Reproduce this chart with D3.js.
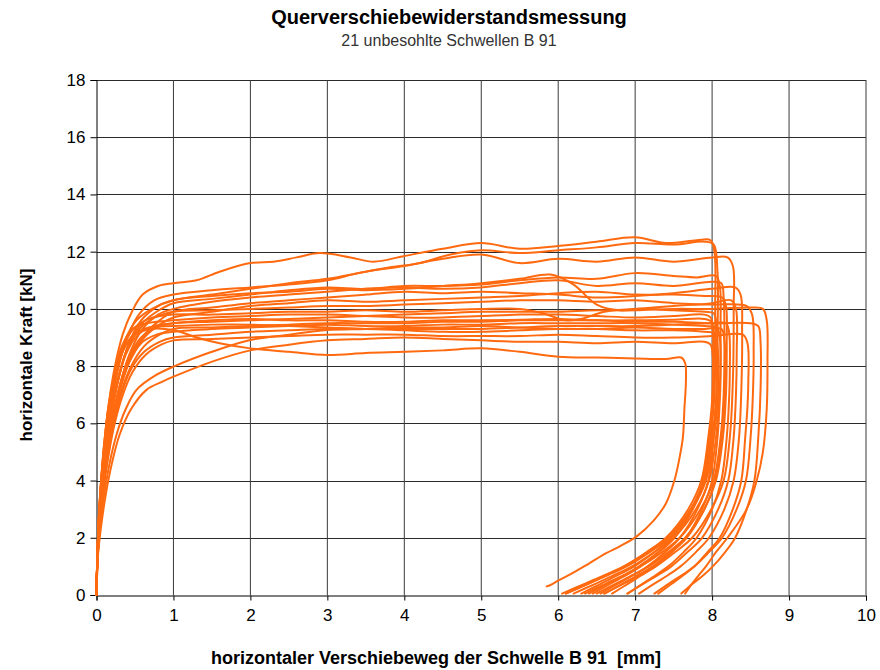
<!DOCTYPE html>
<html>
<head>
<meta charset="utf-8">
<script src="https://cdn.jsdelivr.net/npm/d3@7"></script>
<style>
  html, body { margin: 0; padding: 0; background: #fff; }
  svg { display: block; font-family: "Liberation Sans", Arial, sans-serif; }
</style>
</head>
<body>
<svg id="chart" width="880" height="670"></svg>
<script>
// ---- Data ----
const titleText = "Querverschiebewiderstandsmessung";
const subtitleText = "21 unbesohlte Schwellen B 91";
const xAxisTitle = "horizontaler Verschiebeweg der Schwelle B 91  [mm]";
const yAxisTitle = "horizontale Kraft [kN]";
const xTicks = [0, 1, 2, 3, 4, 5, 6, 7, 8, 9, 10];
const yTicks = [0, 2, 4, 6, 8, 10, 12, 14, 16, 18];

const s01 = [[0,0],[0.01,1.3],[0.03,2.7],[0.06,4],[0.1,5.3],[0.16,6.7],[0.24,8],[0.34,9.1],[0.46,9.9],[0.6,10.5],[0.8,10.8],[1.0,10.9],[1.3,11.0],[1.6,11.3],[2.0,11.6],[2.3,11.65],[2.6,11.8],[2.9,11.95],[3.3,11.8],[3.6,11.65],[4.0,11.85],[4.5,12.1],[5.0,12.3],[5.5,12.1],[6.0,12.2],[6.5,12.35],[7.0,12.5],[7.4,12.3],[7.8,12.4],[7.98,12.4],[8.03,12.0],[8.04,10],[8.03,7],[7.98,5.5],[7.90,4],[7.75,3],[7.51,2],[7.30,1.5],[7.05,1],[6.86,0.7],[6.64,0.4],[6.4,0.05]];
const s02 = [[0,0],[0.01,1.2],[0.03,2.5],[0.07,3.9],[0.12,5.2],[0.19,6.6],[0.28,7.9],[0.4,9],[0.55,9.8],[0.75,10.3],[1.0,10.5],[1.5,10.65],[2.0,10.75],[2.5,10.85],[3.0,11.0],[3.4,11.25],[3.8,11.45],[4.2,11.6],[4.6,11.9],[5.0,12.05],[5.5,11.95],[6.0,12.05],[6.5,12.15],[7.0,12.3],[7.5,12.25],[7.9,12.35],[8.02,12.25],[8.07,11.3],[8.07,9],[8.06,7],[8.02,5.5],[7.95,4],[7.81,3],[7.58,2],[7.39,1.5],[7.16,1],[6.98,0.7],[6.78,0.4],[6.55,0.05]];
const s03 = [[0,0],[0.01,1.2],[0.04,2.6],[0.08,3.9],[0.13,5.1],[0.2,6.4],[0.3,7.7],[0.42,8.8],[0.58,9.6],[0.8,10.1],[1.0,10.3],[1.5,10.5],[2.0,10.7],[2.5,10.9],[3.0,11.05],[3.5,11.3],[4.0,11.5],[4.5,11.75],[5.0,11.9],[5.5,11.6],[6.0,11.75],[6.5,11.65],[7.0,11.8],[7.5,11.65],[8.0,11.8],[8.2,11.8],[8.27,11.5],[8.28,10],[8.27,7.5],[8.23,5.5],[8.15,4],[7.99,3],[7.74,2],[7.52,1.5],[7.27,1],[7.07,0.7],[6.85,0.4],[6.6,0.05]];
const s04 = [[0,0],[0.01,1.2],[0.03,2.5],[0.07,3.8],[0.12,5],[0.19,6.3],[0.28,7.5],[0.4,8.6],[0.56,9.4],[0.78,9.9],[1.0,10.2],[1.5,10.35],[2.0,10.5],[2.5,10.65],[3.0,10.75],[3.5,10.7],[4.0,10.8],[4.5,10.8],[5.0,10.85],[5.5,11.0],[6.0,11.1],[6.5,11.05],[7.0,11.25],[7.5,11.15],[7.8,11.1],[8.05,11.15],[8.1,10.8],[8.11,9.5],[8.1,7.2],[8.05,5.5],[7.96,4],[7.79,3],[7.5,2],[7.25,1.5],[6.96,1],[6.73,0.7],[6.49,0.4],[6.2,0.05]];
const s05 = [[0,0],[0.01,1.1],[0.04,2.4],[0.08,3.7],[0.13,4.9],[0.21,6.2],[0.31,7.4],[0.44,8.5],[0.6,9.3],[0.8,9.8],[1.0,10.0],[1.5,10.25],[2.0,10.4],[2.5,10.5],[3.0,10.6],[3.5,10.7],[4.0,10.75],[4.5,10.7],[5.0,10.75],[5.5,10.9],[6.0,11.0],[6.5,10.8],[7.0,10.9],[7.5,10.8],[8.0,10.95],[8.12,10.9],[8.15,10.4],[8.16,9],[8.15,7],[8.11,5.5],[8.02,4],[7.85,3],[7.58,2],[7.35,1.5],[7.07,1],[6.86,0.7],[6.62,0.4],[6.35,0.05]];
const s06 = [[0,0],[0.01,1.2],[0.03,2.6],[0.06,3.9],[0.11,5.2],[0.17,6.5],[0.26,7.8],[0.37,8.9],[0.52,9.6],[0.72,10.0],[1.0,10.3],[1.5,10.45],[2.0,10.55],[2.5,10.6],[3.0,10.7],[3.5,10.65],[4.0,10.7],[4.5,10.8],[5.0,10.9],[5.5,11.05],[5.9,11.2],[6.2,10.85],[6.5,10.15],[6.8,9.95],[7.0,10.0],[7.5,10.1],[8.0,10.2],[8.25,10.3],[8.31,10.0],[8.32,8.5],[8.31,7],[8.28,5.5],[8.21,4],[8.08,3],[7.87,2],[7.68,1.5],[7.47,1],[7.30,0.7],[7.11,0.4],[6.9,0.05]];
const s07 = [[0,0],[0.01,1.1],[0.04,2.5],[0.08,3.8],[0.14,5],[0.22,6.3],[0.32,7.4],[0.45,8.4],[0.62,9.1],[0.82,9.6],[1.0,9.9],[1.5,10.05],[2.0,10.2],[2.5,10.3],[3.0,10.4],[3.5,10.5],[4.0,10.6],[4.5,10.55],[5.0,10.6],[5.5,10.55],[6.0,10.5],[6.5,10.4],[7.0,10.45],[7.5,10.55],[8.0,10.7],[8.3,10.75],[8.37,10.5],[8.39,9.2],[8.38,7.2],[8.35,5.5],[8.28,4],[8.16,3],[7.96,2],[7.79,1.5],[7.59,1],[7.43,0.7],[7.25,0.4],[7.05,0.05]];
const s08 = [[0,0],[0.01,1.1],[0.04,2.4],[0.08,3.7],[0.14,5],[0.22,6.2],[0.32,7.3],[0.45,8.3],[0.62,9.0],[0.82,9.45],[1.0,9.7],[1.5,9.9],[2.0,10.1],[2.5,10.2],[3.0,10.3],[3.5,10.25],[4.0,10.3],[4.5,10.35],[5.0,10.4],[5.5,10.45],[6.0,10.55],[6.5,10.6],[7.0,10.5],[7.5,10.5],[7.9,10.45],[8.13,10.4],[8.18,10.1],[8.19,8.8],[8.18,7],[8.14,5.5],[8.05,4],[7.90,3],[7.65,2],[7.43,1.5],[7.18,1],[6.97,0.7],[6.75,0.4],[6.5,0.05]];
const s09 = [[0,0],[0.01,1.2],[0.03,2.5],[0.07,3.8],[0.12,5.1],[0.19,6.4],[0.28,7.6],[0.4,8.6],[0.56,9.3],[0.76,9.7],[1.0,9.9],[1.5,9.95],[2.0,10.0],[2.5,10.05],[3.0,10.1],[3.5,10.1],[4.0,10.15],[4.5,10.2],[5.0,10.25],[5.5,10.3],[6.0,10.3],[6.5,10.25],[7.0,10.3],[7.5,10.2],[8.0,10.15],[8.45,10.1],[8.52,9.8],[8.54,8.5],[8.53,7],[8.50,5.5],[8.44,4],[8.32,3],[8.13,2],[7.96,1.5],[7.77,1],[7.61,0.7],[7.44,0.4],[7.25,0.05]];
const s10 = [[0,0],[0.01,1.1],[0.04,2.4],[0.08,3.7],[0.13,4.9],[0.2,6.1],[0.3,7.3],[0.42,8.3],[0.58,9.0],[0.78,9.35],[1.0,9.5],[1.5,9.55],[2.0,9.6],[2.5,9.65],[3.0,9.7],[3.5,9.75],[4.0,9.8],[4.5,9.85],[5.0,9.9],[5.5,9.9],[6.0,9.9],[6.5,9.95],[7.0,9.95],[7.5,10.0],[8.0,10.0],[8.5,10.05],[8.66,10.0],[8.71,9.6],[8.72,8.2],[8.71,6.5],[8.66,5],[8.58,4],[8.45,3],[8.2,2],[8.05,1.5],[7.92,1],[7.83,0.7],[7.74,0.4],[7.65,0.05]];
const s11 = [[0,0],[0.01,1.2],[0.03,2.6],[0.06,3.9],[0.1,5.1],[0.16,6.4],[0.24,7.6],[0.34,8.6],[0.48,9.3],[0.68,9.65],[1.0,9.8],[1.5,9.8],[2.0,9.85],[2.5,9.9],[3.0,9.9],[3.5,9.95],[4.0,9.9],[4.5,9.95],[5.0,10.0],[5.5,10.0],[5.8,9.85],[6.1,9.6],[6.3,9.65],[6.6,9.9],[7.0,10.0],[7.5,9.95],[7.9,9.9],[8.02,9.85],[8.06,9.4],[8.06,8],[8.05,6.8],[8.0,5.5],[7.9,4],[7.72,3],[7.42,2],[7.16,1.5],[6.85,1],[6.61,0.7],[6.35,0.4],[6.05,0.05]];
const s12 = [[0,0],[0.01,1.3],[0.03,2.7],[0.06,4],[0.1,5.2],[0.15,6.5],[0.23,7.7],[0.33,8.7],[0.47,9.3],[0.66,9.5],[1.0,9.6],[1.5,9.7],[2.0,9.75],[2.5,9.8],[3.0,9.8],[3.5,9.75],[4.0,9.7],[4.5,9.7],[5.0,9.75],[5.5,9.8],[6.0,9.8],[6.5,9.75],[7.0,9.7],[7.5,9.75],[7.9,9.8],[7.98,9.7],[8.01,9.2],[8.01,7.8],[8.0,6.8],[7.95,5.5],[7.86,4],[7.69,3],[7.40,2],[7.15,1.5],[6.86,1],[6.63,0.7],[6.39,0.4],[6.1,0.05]];
const s13 = [[0,0],[0.01,1.1],[0.04,2.4],[0.08,3.6],[0.14,4.8],[0.22,6],[0.32,7.1],[0.45,8],[0.62,8.7],[0.82,9.1],[1.0,9.3],[1.5,9.35],[2.0,9.4],[2.5,9.45],[3.0,9.5],[3.5,9.5],[4.0,9.5],[4.5,9.55],[5.0,9.55],[5.5,9.6],[6.0,9.6],[6.5,9.6],[7.0,9.55],[7.5,9.55],[8.0,9.5],[8.5,9.5],[8.6,9.4],[8.63,8.8],[8.63,7.2],[8.60,5.5],[8.55,4],[8.45,3],[8.30,2],[8.17,1.5],[8.01,1],[7.89,0.7],[7.75,0.4],[7.6,0.05]];
const s14 = [[0,0],[0.01,1.2],[0.03,2.5],[0.07,3.8],[0.12,5],[0.18,6.2],[0.27,7.4],[0.38,8.4],[0.54,9.1],[0.75,9.4],[1.0,9.5],[1.5,9.6],[2.0,9.65],[2.5,9.6],[3.0,9.6],[3.5,9.55],[4.0,9.55],[4.5,9.6],[5.0,9.6],[5.5,9.62],[6.0,9.65],[6.5,9.6],[7.0,9.6],[7.5,9.62],[7.9,9.65],[7.99,9.55],[8.02,9.1],[8.02,7.6],[8.01,6.8],[7.97,5.5],[7.88,4],[7.73,3],[7.47,2],[7.25,1.5],[6.99,1],[6.78,0.7],[6.56,0.4],[6.3,0.05]];
const s15 = [[0,0],[0.01,1.1],[0.04,2.4],[0.08,3.6],[0.13,4.8],[0.2,6],[0.3,7.2],[0.42,8.1],[0.58,8.8],[0.78,9.1],[1.0,9.2],[1.5,9.3],[2.0,9.35],[2.5,9.4],[3.0,9.45],[3.5,9.4],[4.0,9.4],[4.5,9.45],[5.0,9.45],[5.5,9.5],[6.0,9.5],[6.5,9.5],[7.0,9.5],[7.5,9.45],[7.9,9.4],[8.06,9.35],[8.1,9.0],[8.11,7.6],[8.1,6.8],[8.07,5.5],[8.0,4],[7.87,3],[7.66,2],[7.48,1.5],[7.26,1],[7.09,0.7],[6.91,0.4],[6.7,0.05]];
const s16 = [[0,0],[0.01,1.3],[0.03,2.6],[0.06,3.9],[0.1,5.1],[0.16,6.3],[0.24,7.5],[0.34,8.5],[0.48,9.1],[0.68,9.35],[1.0,9.4],[1.5,9.45],[2.0,9.45],[2.5,9.4],[3.0,9.35],[3.5,9.3],[4.0,9.3],[4.5,9.3],[5.0,9.3],[5.5,9.35],[6.0,9.4],[6.5,9.4],[7.0,9.4],[7.5,9.45],[8.0,9.5],[8.18,9.5],[8.22,9.2],[8.23,7.8],[8.22,6.8],[8.19,5.5],[8.12,4],[8.0,3],[7.80,2],[7.63,1.5],[7.43,1],[7.27,0.7],[7.1,0.4],[6.9,0.05]];
const s17 = [[0,0],[0.01,1.1],[0.04,2.3],[0.08,3.5],[0.14,4.7],[0.22,5.9],[0.32,7],[0.45,7.9],[0.62,8.5],[0.82,8.85],[1.0,9.0],[1.5,9.1],[2.0,9.2],[2.5,9.25],[3.0,9.3],[3.5,9.3],[4.0,9.25],[4.5,9.2],[5.0,9.2],[5.5,9.25],[6.0,9.3],[6.5,9.3],[7.0,9.35],[7.5,9.3],[7.9,9.3],[8.12,9.3],[8.16,8.9],[8.17,7.5],[8.16,6.8],[8.12,5.5],[8.04,4],[7.90,3],[7.67,2],[7.46,1.5],[7.23,1],[7.04,0.7],[6.84,0.4],[6.6,0.05]];
const s18 = [[0,0],[0.01,1.1],[0.04,2.3],[0.08,3.5],[0.14,4.6],[0.22,5.8],[0.33,6.9],[0.47,7.8],[0.64,8.4],[0.84,8.75],[1.0,8.9],[1.5,8.95],[2.0,9.0],[2.5,9.05],[3.0,9.1],[3.5,9.1],[4.0,9.1],[4.5,9.05],[5.0,9.05],[5.5,9.05],[6.0,9.1],[6.5,9.05],[7.0,9.0],[7.5,9.0],[8.0,9.05],[8.4,9.1],[8.46,8.8],[8.47,7.4],[8.46,6.6],[8.43,5.5],[8.38,4],[8.27,3],[8.10,2],[7.94,1.5],[7.77,1],[7.63,0.7],[7.48,0.4],[7.3,0.05]];
const s19 = [[0,0],[0.02,1.5],[0.05,2.5],[0.1,3.5],[0.17,4.6],[0.26,5.6],[0.38,6.5],[0.52,7.17],[0.75,7.65],[1.0,7.98],[1.5,8.5],[2.0,8.91],[2.5,9.1],[3.0,9.26],[3.5,9.3],[4.0,9.35],[4.5,9.35],[5.0,9.4],[5.5,9.35],[6.0,9.3],[6.5,9.3],[7.0,9.25],[7.5,9.25],[7.9,9.2],[8.03,9.15],[8.07,8.7],[8.08,7.3],[8.07,6.6],[8.02,5.5],[7.92,4],[7.74,3],[7.45,2],[7.19,1.5],[6.89,1],[6.65,0.7],[6.40,0.4],[6.1,0.05]];
const s20 = [[0,0],[0.02,1.4],[0.06,2.4],[0.12,3.5],[0.2,4.6],[0.3,5.6],[0.45,6.5],[0.65,7.17],[0.85,7.45],[1.0,7.63],[1.55,8.2],[2.0,8.55],[2.5,8.75],[3.0,8.9],[3.5,8.95],[4.0,9.0],[4.5,8.95],[5.0,8.9],[5.5,8.85],[6.0,8.85],[6.5,8.8],[7.0,8.85],[7.5,8.8],[7.9,8.85],[7.98,8.75],[8.01,8.3],[8.01,7],[8.0,6.5],[7.96,5.5],[7.89,4],[7.74,3],[7.51,2],[7.31,1.5],[7.07,1],[6.89,0.7],[6.68,0.4],[6.45,0.05]];
const s21 = [[0,0],[0.01,1.3],[0.03,2.7],[0.06,4],[0.1,5.3],[0.16,6.6],[0.24,7.7],[0.35,8.6],[0.5,9.1],[0.7,9.3],[1.0,9.26],[1.3,9.0],[1.6,8.8],[2.0,8.62],[2.5,8.5],[3.0,8.39],[3.5,8.46],[4.0,8.5],[4.5,8.55],[5.0,8.62],[5.5,8.5],[6.0,8.33],[6.5,8.3],[7.0,8.27],[7.4,8.25],[7.6,8.3],[7.65,8.1],[7.66,7.5],[7.64,6.5],[7.62,5.5],[7.57,4.7],[7.51,4.0],[7.4,3.2],[7.24,2.6],[7.02,2.05],[6.8,1.7],[6.63,1.47],[6.4,1.1],[6.19,0.77],[6.0,0.5],[5.9,0.35],[5.85,0.3]];

const seriesList = [s01,s02,s03,s04,s05,s06,s07,s08,s09,s10,s11,s12,s13,s14,s15,s16,s17,s18,s19,s20,s21];

// ---- Drawing ----
const svg = d3.select("#chart");
svg.append("rect").attr("width", 880).attr("height", 670).attr("fill", "#fff");

const x = d3.scaleLinear().domain([0, 10]).range([96.5, 866]);
const y = d3.scaleLinear().domain([0, 18]).range([595, 80]);

// gridlines
svg.append("g").selectAll("line.h").data(yTicks.filter(d => d > 0)).join("line")
  .attr("x1", x(0)).attr("x2", x(10))
  .attr("y1", d => Math.round(y(d)) + 0.5).attr("y2", d => Math.round(y(d)) + 0.5)
  .attr("stroke", "#2a2a2a").attr("stroke-width", 1);
svg.append("g").selectAll("line.v").data(xTicks.filter(d => d > 0)).join("line")
  .attr("x1", d => x(d)).attr("x2", d => x(d))
  .attr("y1", y(18)).attr("y2", y(0))
  .attr("stroke", "#3a3a3a").attr("stroke-width", 1);

// axes
const yAxis = d3.axisLeft(y).tickValues(yTicks).tickSize(6).tickPadding(5);
const xAxis = d3.axisBottom(x).tickValues(xTicks).tickSize(5).tickPadding(8);

const gy = svg.append("g").attr("transform", `translate(${x(0)},0)`).call(yAxis);
const gx = svg.append("g").attr("transform", `translate(0,${Math.round(y(0)) + 0.5})`).call(xAxis);
[gy, gx].forEach(g => {
  g.select(".domain").attr("stroke", "#000").attr("stroke-width", 1);
  g.selectAll(".tick line").attr("stroke", "#000");
  g.selectAll(".tick text").attr("fill", "#000")
    .style("font-family", "'Liberation Sans', Arial, sans-serif").style("font-size", "17px");
});

// curves
const line = d3.line()
  .x(d => x(d[0])).y(d => y(d[1]))
  .curve(d3.curveCatmullRom.alpha(0.5));

svg.append("g").selectAll("path").data(seriesList).join("path")
  .attr("d", line)
  .attr("fill", "none")
  .attr("stroke", "#ff6a10")
  .attr("stroke-width", 2)
  .attr("stroke-linejoin", "round")
  .attr("stroke-linecap", "round");

// titles
svg.append("text").attr("x", 449).attr("y", 24).attr("text-anchor", "middle")
  .style("font-size", "20px").style("font-weight", "bold").attr("fill", "#000")
  .text(titleText);
svg.append("text").attr("x", 449).attr("y", 46).attr("text-anchor", "middle")
  .style("font-size", "16px").attr("fill", "#333")
  .text(subtitleText);
svg.append("text").attr("x", 436).attr("y", 664).attr("text-anchor", "middle")
  .style("font-size", "18px").style("font-weight", "bold").style("white-space", "pre").attr("fill", "#000")
  .text(xAxisTitle);
svg.append("text").attr("transform", "translate(32,355) rotate(-90)").attr("text-anchor", "middle")
  .style("font-size", "17px").style("font-weight", "bold").attr("fill", "#000")
  .text(yAxisTitle);
</script>
</body>
</html>
